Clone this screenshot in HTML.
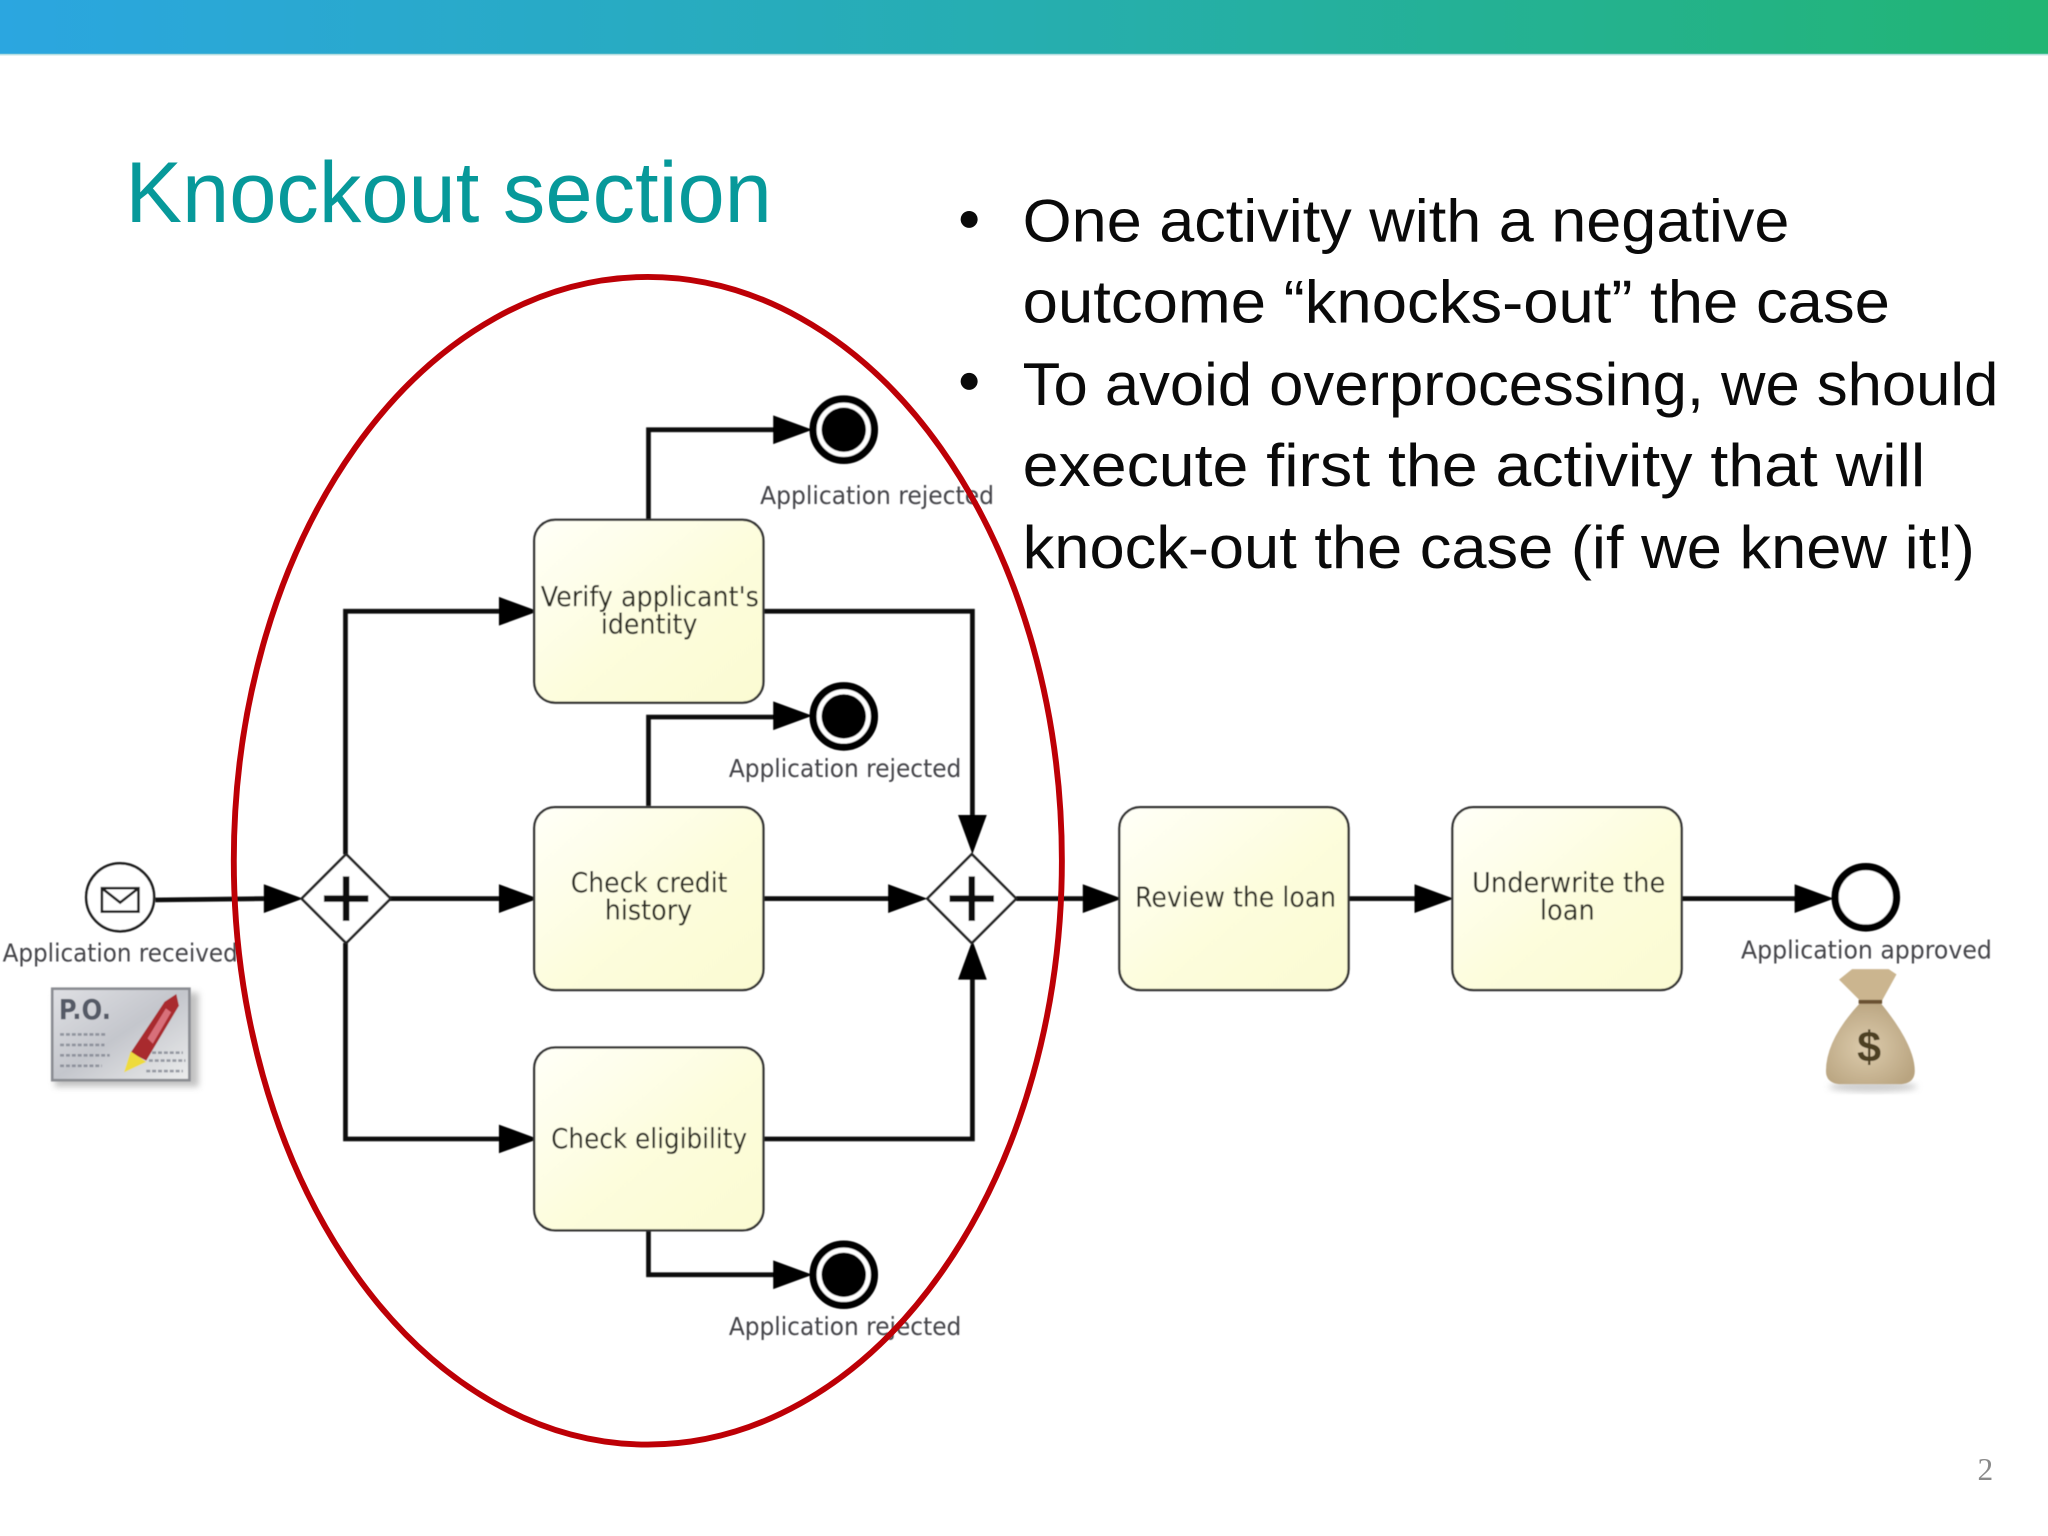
<!DOCTYPE html>
<html><head><meta charset="utf-8"><style>
html,body{margin:0;padding:0;background:#fff;width:2048px;height:1536px;overflow:hidden}
svg{display:block}
.h{font-family:"Liberation Sans",sans-serif;font-size:46px;fill:#0a0a0a}
.l{font-family:"DejaVu Sans",sans-serif;font-size:19px;fill:#44444a}
.t{font-family:"DejaVu Sans",sans-serif;font-size:21px;fill:#2c2c24}
.f{fill:none;stroke:#0b0b0b;stroke-width:3.6}
.tk{fill:url(#y);stroke:#333;stroke-width:1.8}
</style></head><body>
<svg width="2048" height="1536" viewBox="0 0 1568 1176" xmlns="http://www.w3.org/2000/svg">
<defs>
<linearGradient id="b" x1="0" x2="1" y1="0" y2="0"><stop offset="0" stop-color="#2ba6e0"/><stop offset=".5" stop-color="#26aeb0"/><stop offset="1" stop-color="#22b573"/></linearGradient>
<linearGradient id="y" x1="0" y1="0" x2="1" y2="1"><stop offset="0" stop-color="#fffff8"/><stop offset=".55" stop-color="#fdfddc"/><stop offset="1" stop-color="#fbfbd2"/></linearGradient>
<linearGradient id="po" x1="0" y1="0" x2="1" y2="1"><stop offset="0" stop-color="#dfe0e4"/><stop offset=".5" stop-color="#c4c6cc"/><stop offset="1" stop-color="#eceded"/></linearGradient>
<radialGradient id="bag" cx=".45" cy=".55" r=".6"><stop offset="0" stop-color="#dccbac"/><stop offset="1" stop-color="#b9a480"/></radialGradient>
<filter id="s" x="-20%" y="-20%" width="140%" height="140%"><feGaussianBlur stdDeviation="2.5"/></filter>
<filter id="sb" x="-5%" y="-5%" width="110%" height="110%"><feGaussianBlur stdDeviation=".45"/></filter>
</defs>
<rect width="1568" height="41.5" fill="url(#b)"/>
<rect y="41" width="1568" height="1.5" fill="#9fd4d6" opacity=".6"/>
<text x="96" y="170" font-family="Liberation Sans,sans-serif" font-size="66" fill="#07999a" textLength="495" lengthAdjust="spacingAndGlyphs">Knockout section</text>

<g filter="url(#sb)">
<path class="f" d="M119 689L204 688M298 688H384M264.5 654V468H384M264.5 722V872H384M496.5 398V329H594M585 468H744.5V626M496.5 617V549H594M585 688H682M778 688H832M585 872H744.5V748M496.5 942V976H594M1033 688H1085M1288 688H1376"/>
<g fill="#050505">
<path d="M202 677L232 688L202 699Z"/>
<path d="M382 677L412 688L382 699Z"/>
<path d="M382 457L412 468L382 479Z"/>
<path d="M382 861L412 872L382 883Z"/>
<path d="M592 318L622 329L592 340Z"/>
<path d="M592 537L622 548L592 559Z"/>
<path d="M592 965L622 976L592 987Z"/>
<path d="M680 677L710 688L680 699Z"/>
<path d="M829 677L859 688L829 699Z"/>
<path d="M1083 677L1113 688L1083 699Z"/>
<path d="M1374 677L1404 688L1374 699Z"/>
<path d="M733.5 624L744.5 654L755.5 624Z"/>
<path d="M733.5 750L744.5 720L755.5 750Z"/>
</g>
<circle cx="92" cy="687" r="26" fill="#fff" stroke="#1a1a1a" stroke-width="2"/>
<path d="M78 680H106V698H78ZM78 680L92 691L106 680" fill="none" stroke="#1a1a1a" stroke-width="2"/>
<g fill="#fff" stroke="#222" stroke-width="2"><path d="M265 654L299 688L265 722L231 688Z"/><path d="M744 654L778 688L744 722L710 688Z"/></g>
<path d="M265 671V705M248 688H282M744 671V705M727 688H761" stroke="#0a0a0a" stroke-width="5" fill="none"/>
<rect class="tk" x="409" y="398" width="175.500" height="140" rx="16"/>
<rect class="tk" x="409" y="618" width="175.500" height="140" rx="16"/>
<rect class="tk" x="409" y="802" width="175.500" height="140" rx="16"/>
<rect class="tk" x="857" y="618" width="175.500" height="140" rx="16"/>
<rect class="tk" x="1112" y="618" width="175.500" height="140" rx="16"/>
<text class="t" x="414" y="464" textLength="167" lengthAdjust="spacingAndGlyphs">Verify applicant's</text>
<text class="t" x="460" y="485" textLength="74" lengthAdjust="spacingAndGlyphs">identity</text>
<text class="t" x="437" y="683" textLength="120" lengthAdjust="spacingAndGlyphs">Check credit</text>
<text class="t" x="463" y="704" textLength="67" lengthAdjust="spacingAndGlyphs">history</text>
<text class="t" x="422" y="879" textLength="150" lengthAdjust="spacingAndGlyphs">Check eligibility</text>
<text class="t" x="869" y="694" textLength="154" lengthAdjust="spacingAndGlyphs">Review the loan</text>
<text class="t" x="1127" y="683" textLength="148" lengthAdjust="spacingAndGlyphs">Underwrite the</text>
<text class="t" x="1179" y="704" textLength="42" lengthAdjust="spacingAndGlyphs">loan</text>
<g fill="#fff" stroke="#050505" stroke-width="5.500">
<circle cx="646" cy="329" r="23.500"/><circle cx="646" cy="548.500" r="23.500"/><circle cx="646" cy="976" r="23.500"/>
<circle cx="1428.500" cy="687" r="23.500"/></g>
<g fill="#050505"><circle cx="646" cy="329" r="17"/><circle cx="646" cy="548.500" r="17"/><circle cx="646" cy="976" r="17"/></g>
<text class="l" x="2" y="736" textLength="180" lengthAdjust="spacingAndGlyphs">Application received</text>
<text class="l" x="582" y="386" textLength="179" lengthAdjust="spacingAndGlyphs">Application rejected</text>
<text class="l" x="558" y="595" textLength="178" lengthAdjust="spacingAndGlyphs">Application rejected</text>
<text class="l" x="558" y="1022" textLength="178" lengthAdjust="spacingAndGlyphs">Application rejected</text>
<text class="l" x="1333" y="734" textLength="192" lengthAdjust="spacingAndGlyphs">Application approved</text>
<rect x="42" y="760" width="110" height="72" fill="#999" opacity=".6" filter="url(#s)"/>
<rect x="40" y="757" width="105" height="70" fill="url(#po)" stroke="#8a8c92" stroke-width="2"/>
<text x="45" y="780" font-family="DejaVu Sans,sans-serif" font-weight="bold" font-size="21" fill="#555a66" textLength="40" lengthAdjust="spacingAndGlyphs">P.O.</text>
<g stroke="#777c88" stroke-width="2" stroke-dasharray="3 1.500" opacity=".7"><path d="M46 792H82M46 800H80M46 808H84M46 816H78M112 806H140M114 812H142M112 820H140"/></g>
<path d="M100 806L126 767L135 761L137 770L112 812Z" fill="#a92a2e"/>
<path d="M113 795L127 772L131 775L117 799Z" fill="#d8707a"/>
<path d="M95 821L100 805L112 813Z" fill="#eedb3e"/>
<ellipse cx="1434" cy="832" rx="34" ry="4" fill="#999" opacity=".5" filter="url(#s)"/>
<path d="M1424 768Q1398 796 1398 820Q1398 829 1408 830H1456Q1466 829 1466 820Q1466 800 1440 768Z" fill="url(#bag)"/>
<path d="M1424 766L1408 750L1418 742H1446L1452 746L1441 766Z" fill="#cbb58f"/>
<path d="M1423 767H1441" stroke="#6b5130" stroke-width="3"/>
<text x="1431" y="813" text-anchor="middle" font-family="Liberation Sans,sans-serif" font-weight="bold" font-size="33" fill="#4d4024">$</text>
</g>
<circle cx="742" cy="168" r="6.500" fill="#0a0a0a"/>
<circle cx="742" cy="292" r="6.500" fill="#0a0a0a"/>
<text class="h" x="783" y="185" textLength="587" lengthAdjust="spacingAndGlyphs">One activity with a negative</text>
<text class="h" x="783" y="247" textLength="664" lengthAdjust="spacingAndGlyphs">outcome “knocks-out” the case</text>
<text class="h" x="783" y="310" textLength="747" lengthAdjust="spacingAndGlyphs">To avoid overprocessing, we should</text>
<text class="h" x="783" y="372" textLength="691" lengthAdjust="spacingAndGlyphs">execute first the activity that will</text>
<text class="h" x="783" y="435" textLength="729" lengthAdjust="spacingAndGlyphs">knock-out the case (if we knew it!)</text>
<ellipse cx="496" cy="659" rx="317" ry="447" fill="none" stroke="#bd0006" stroke-width="4.500"/>
<text x="1520" y="1133" text-anchor="middle" font-family="Liberation Serif,serif" font-size="24" fill="#8a8a8a">2</text>
</svg>
</body></html>
